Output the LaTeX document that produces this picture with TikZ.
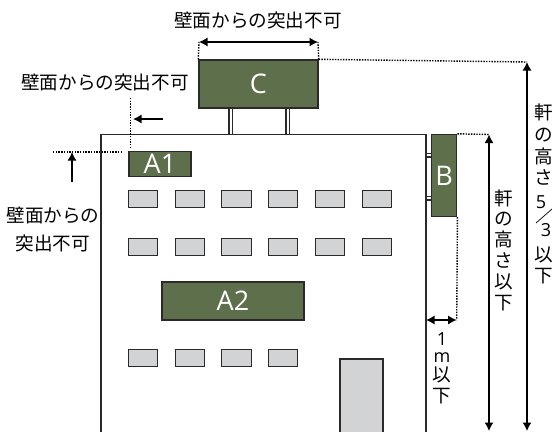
\documentclass[tikz,border=0pt]{standalone}
\usepackage{fontspec}
\setmainfont{Noto Sans CJK JP}
\newfontfamily\latinfont{Open Sans}
\usetikzlibrary{arrows.meta}
\definecolor{signgreen}{HTML}{5E6F4B}
\definecolor{wingray}{HTML}{D1D3D4}
\definecolor{inkline}{HTML}{2B292A}
\tikzset{
  sign/.style={draw=inkline,line width=1.4pt,fill=signgreen,text=white,inner sep=0pt,font=\latinfont\fontsize{27}{27}\selectfont},
  win/.style={draw=inkline,line width=1.4pt,fill=wingray,minimum width=29.5pt,minimum height=17.5pt,inner sep=0pt},
  wall/.style={draw=inkline,line width=1.4pt},
  dots/.style={draw=black,line width=1.4pt,dash pattern=on 1.4pt off 1.3pt},
  dim/.style={draw=black,line width=1.3pt,-{Latex[length=8.5pt,width=9pt]}},
  dimboth/.style={draw=black,line width=1.3pt,{Latex[length=8.5pt,width=9pt]}-{Latex[length=8.5pt,width=9pt]}},
  lab/.style={text=black,inner sep=0pt,align=center,font=\fontsize{18.6}{28}\selectfont},
  stack/.style={lab,font=\fontsize{18.6}{20.8}\selectfont},
  stackwide/.style={lab,font=\fontsize{18.6}{21.6}\selectfont},
  num/.style={lab,font=\latinfont\fontsize{18}{18}\selectfont}
}
\begin{document}
\begin{tikzpicture}[x=1pt,y=-1pt]
\useasboundingbox (0,0) rectangle (555,432);
% building
\draw[wall] (101,432) -- (101,134.5) -- (426,134.5) -- (426,432);
% windows
\foreach \wx [count=\i] in {143,190,236.5,283,330,377}{
  \node[win] (wa\i) at (\wx,199) {};
  \node[win] (wb\i) at (\wx,247) {};
}
\foreach \wx [count=\i] in {143,190,236.5,283}{
  \node[win] (wc\i) at (\wx,358) {};
}
\draw[wall,fill=wingray] (340,432) -- (340,359) -- (383,359) -- (383,432);
% signs
\node[sign,minimum width=119pt,minimum height=48pt] (signC) at (258.5,84) {C};
\node[sign,minimum width=62pt,minimum height=25pt] (signA) at (160,164) {A1};
\node[sign,minimum width=142pt,minimum height=38pt] (signD) at (233,301) {A2};
\node[sign,minimum width=25.5pt,minimum height=82pt] (signB) at (444,175.5) {B};
% supports
\foreach \sx in {229,232.5,286,289.5}{
  \draw[wall] (\sx,108) -- (\sx,134.5);
}
\foreach \sy in {153.5,157,196.5,200}{
  \draw[wall] (426,\sy) -- (431,\sy);
}
% guides and arrows
\coordinate (cl) at (199,42);
\coordinate (cr) at (318,42);
\draw[dots] (signC.north west) -- (cl);
\draw[dots] (signC.north east) -- (cr);
\draw[dimboth] (cl) -- (cr);
\coordinate (ctop) at (527,62);
\coordinate (cbot) at (527,431);
\draw[dots] (signC.north east) -- (ctop);
\draw[dimboth] (ctop) -- (cbot);
\coordinate (btop) at (489,134.5);
\coordinate (bbot) at (489,431);
\draw[dots] (signB.north east) -- (btop);
\draw[dimboth] (btop) -- (bbot);
\coordinate (wall1) at (426,320);
\coordinate (bout) at (456.7,320);
\draw[dots] (signB.south east) -- (bout);
\draw[dimboth] (wall1) -- (bout);
\coordinate (atop) at (130.5,98);
\coordinate (afoot) at (130.5,148);
\coordinate (aleft) at (53,152);
\coordinate (aright) at (123,152);
\draw[dots] (atop) -- (afoot);
\draw[dots] (aleft) -- (aright);
\coordinate (ahead) at (133,119);
\coordinate (atail) at (163,119);
\draw[dim] (atail) -- (ahead);
\coordinate (uhead) at (72,152);
\coordinate (utail) at (72,182);
\draw[dim] (utail) -- (uhead);
% labels
\node[lab] (labtop) at (258,20) {壁面からの突出不可};
\node[lab] (lableft) at (105,82) {壁面からの突出不可};
\node[lab] (labside) at (53,229) {壁面からの\\突出不可};
\node[stack] (labeave) at (504,250) {軒\\の\\高\\さ\\以\\下};
\node[stackwide,anchor=north] (labfivea) at (544,104) {軒\\の\\高\\さ};
\node[num] (labnum) at (541,202) {5};
\node[num] (labden) at (546,230) {3};
\coordinate (slasha) at (552,209);
\coordinate (slashb) at (536,223);
\draw[draw=black,line width=.7pt] (slasha) -- (slashb);
\node[stack,anchor=north] (labfiveb) at (544,247) {以\\下};
\node[num] (labone) at (442,339) {1};
\node[num] (labm) at (442,358) {m};
\node[stack,anchor=north] (labonekanji) at (442,367) {以\\下};
\end{tikzpicture}
\end{document}
